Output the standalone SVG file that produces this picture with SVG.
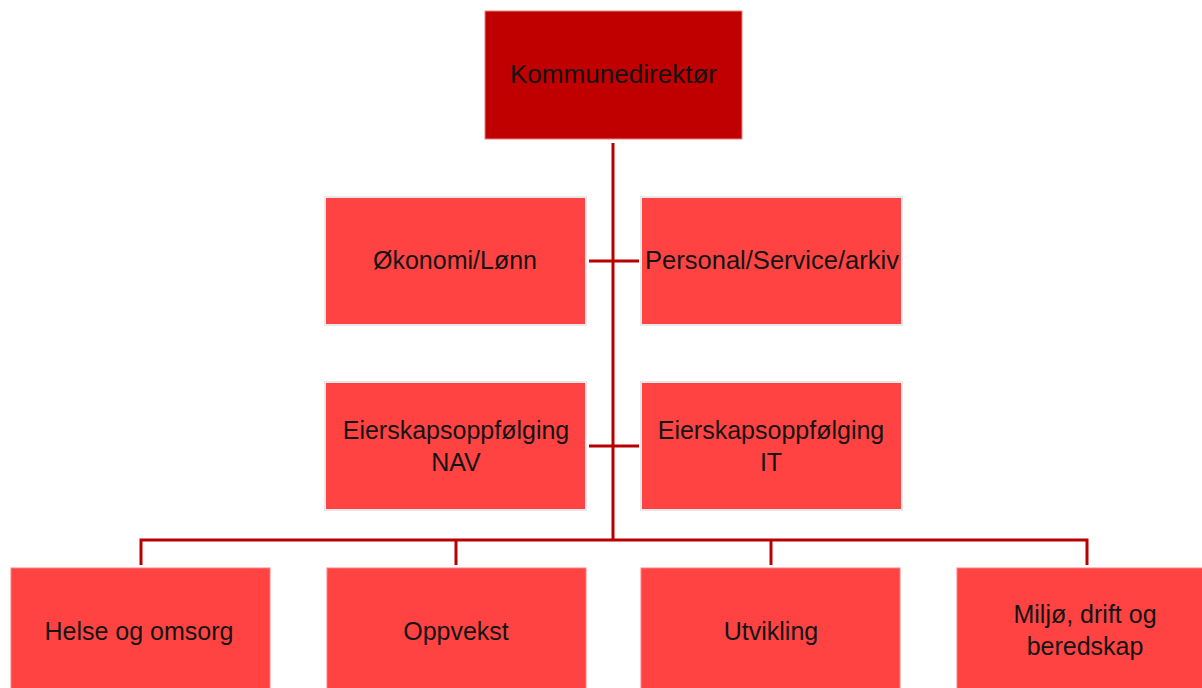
<svg xmlns="http://www.w3.org/2000/svg" width="1202" height="688" viewBox="0 0 1202 688">
<style>
.box{fill:#FF4343;stroke:#E8E8E8;stroke-width:2}
.top{fill:#C00000;stroke:#E88080;stroke-width:1}
.low{fill:#FF4343;stroke:#FF8080;stroke-width:1}
.t{font-family:"Liberation Sans",Arial,sans-serif;font-size:25px;fill:#141414;text-anchor:middle}
.c{fill:none;stroke:#B80000;stroke-width:3}
</style>
<rect width="1202" height="688" fill="#FFFFFF"/>
<g id="connectors">
<path class="c" d="M613,143 V540"/>
<path class="c" d="M589,261 H639"/>
<path class="c" d="M589,446 H639"/>
<path class="c" d="M141,565 V540 H1087 V565"/>
<path class="c" d="M456,540 V565"/>
<path class="c" d="M771,540 V565"/>
</g>
<g id="kommunedirektor"><rect class="top" x="485" y="11" width="257" height="128"/><text class="t" x="613.5" y="83" textLength="207" lengthAdjust="spacingAndGlyphs">Kommunedirektør</text></g>
<g id="okonomi"><rect class="box" x="325" y="197" width="261" height="128"/><text class="t" x="455" y="269">Økonomi/Lønn</text></g>
<g id="personal"><rect class="box" x="641" y="197" width="261" height="128"/><text class="t" x="772" y="269" textLength="254" lengthAdjust="spacingAndGlyphs">Personal/Service/arkiv</text></g>
<g id="eierskap-nav"><rect class="box" x="325" y="382" width="261" height="128"/><text class="t" x="456" y="439">Eierskapsoppfølging</text><text class="t" x="456" y="471">NAV</text></g>
<g id="eierskap-it"><rect class="box" x="641" y="382" width="261" height="128"/><text class="t" x="771" y="439">Eierskapsoppfølging</text><text class="t" x="771" y="471">IT</text></g>
<g id="helse"><rect class="low" x="11" y="568" width="259" height="130"/><text class="t" x="139" y="640">Helse og omsorg</text></g>
<g id="oppvekst"><rect class="low" x="327" y="568" width="259" height="130"/><text class="t" x="456" y="640">Oppvekst</text></g>
<g id="utvikling"><rect class="low" x="641" y="568" width="259" height="130"/><text class="t" x="771" y="640">Utvikling</text></g>
<g id="miljo"><rect class="low" x="957" y="568" width="259" height="130"/><text class="t" x="1085" y="623">Miljø, drift og</text><text class="t" x="1085" y="655">beredskap</text></g>
</svg>
